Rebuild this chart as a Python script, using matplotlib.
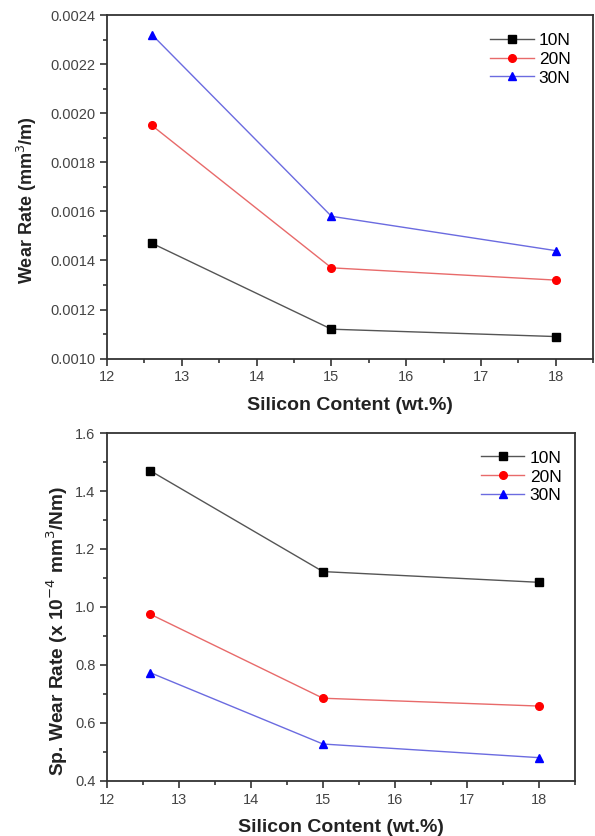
import matplotlib
matplotlib.use("Agg")
import matplotlib.pyplot as plt
from matplotlib.ticker import MultipleLocator

plt.rcParams['font.family'] = ['Liberation Sans', 'DejaVu Sans']

silicon = [12.6, 15, 18]
loads = ["10N", "20N", "30N"]
wear_10 = [0.00147, 0.00112, 0.00109]
wear_20 = [0.00195, 0.00137, 0.00132]
wear_30 = [0.00232, 0.00158, 0.00144]
sp_10 = [1.47, 1.122, 1.085]
sp_20 = [0.975, 0.685, 0.658]
sp_30 = [0.773, 0.527, 0.48]

colors = ["black", "red", "blue"]
line_colors = ["#555555", "#e86a6a", "#6b6be0"]
markers = ["s", "o", "^"]


def style_axes(ax, ylim, ymajor, yminor, fmt, anchor):
    ax.set_xlim(12, 18.5)
    ax.set_ylim(*ylim)
    ax.xaxis.set_major_locator(MultipleLocator(1))
    ax.xaxis.set_minor_locator(MultipleLocator(0.5))
    ax.yaxis.set_major_locator(MultipleLocator(ymajor))
    ax.yaxis.set_minor_locator(MultipleLocator(yminor))
    ax.yaxis.set_major_formatter(plt.FormatStrFormatter(fmt))
    ax.tick_params(which="both", direction="out", top=False, right=False,
                   labelsize=10.5, colors="#333333", labelcolor="#444444")
    ax.tick_params(which="major", length=5, width=1.2)
    ax.tick_params(which="minor", length=3, width=1.2)
    for s in ax.spines.values():
        s.set_linewidth(1.3)
        s.set_color("#333333")
    ax.set_xlabel("Silicon Content (wt.%)", fontsize=14, fontweight="bold",
                  color="#222222", labelpad=9)
    ax.legend(loc="upper right", bbox_to_anchor=anchor, frameon=False,
              fontsize=12.5, handlelength=2.5, borderaxespad=0.9,
              labelspacing=0.22, handletextpad=0.3)


def draw(ax, series):
    for ys, lab, c, lc, m in zip(series, loads, colors, line_colors, markers):
        ax.plot(silicon, ys, color=lc, marker=m, markersize=5.5, linewidth=1.0,
                markerfacecolor=c, markeredgecolor=c, label=lab)


fig = plt.figure(figsize=(5.95, 8.36), dpi=100)
ax1 = fig.add_axes([0.180, 0.571, 0.817, 0.411])
ax2 = fig.add_axes([0.180, 0.066, 0.786, 0.416])

draw(ax1, [wear_10, wear_20, wear_30])
style_axes(ax1, (0.0010, 0.0024), 0.0002, 0.0001, "%.4f", (1.0, 1.015))
ax1.set_ylabel("Wear Rate (mm$^3$/m)", fontsize=13, fontweight="bold",
               color="#222222")
ax1.yaxis.set_label_coords(-0.14, 0.46)

draw(ax2, [sp_10, sp_20, sp_30])
style_axes(ax2, (0.4, 1.6), 0.2, 0.1, "%.1f", (1.02, 1.015))
ax2.set_ylabel("Sp. Wear Rate (x 10$^{-4}$ mm$^3$/Nm)", fontsize=13.8,
               fontweight="bold", color="#222222")
ax2.yaxis.set_label_coords(-0.08, 0.43)

fig.savefig("out.png", dpi=100)
